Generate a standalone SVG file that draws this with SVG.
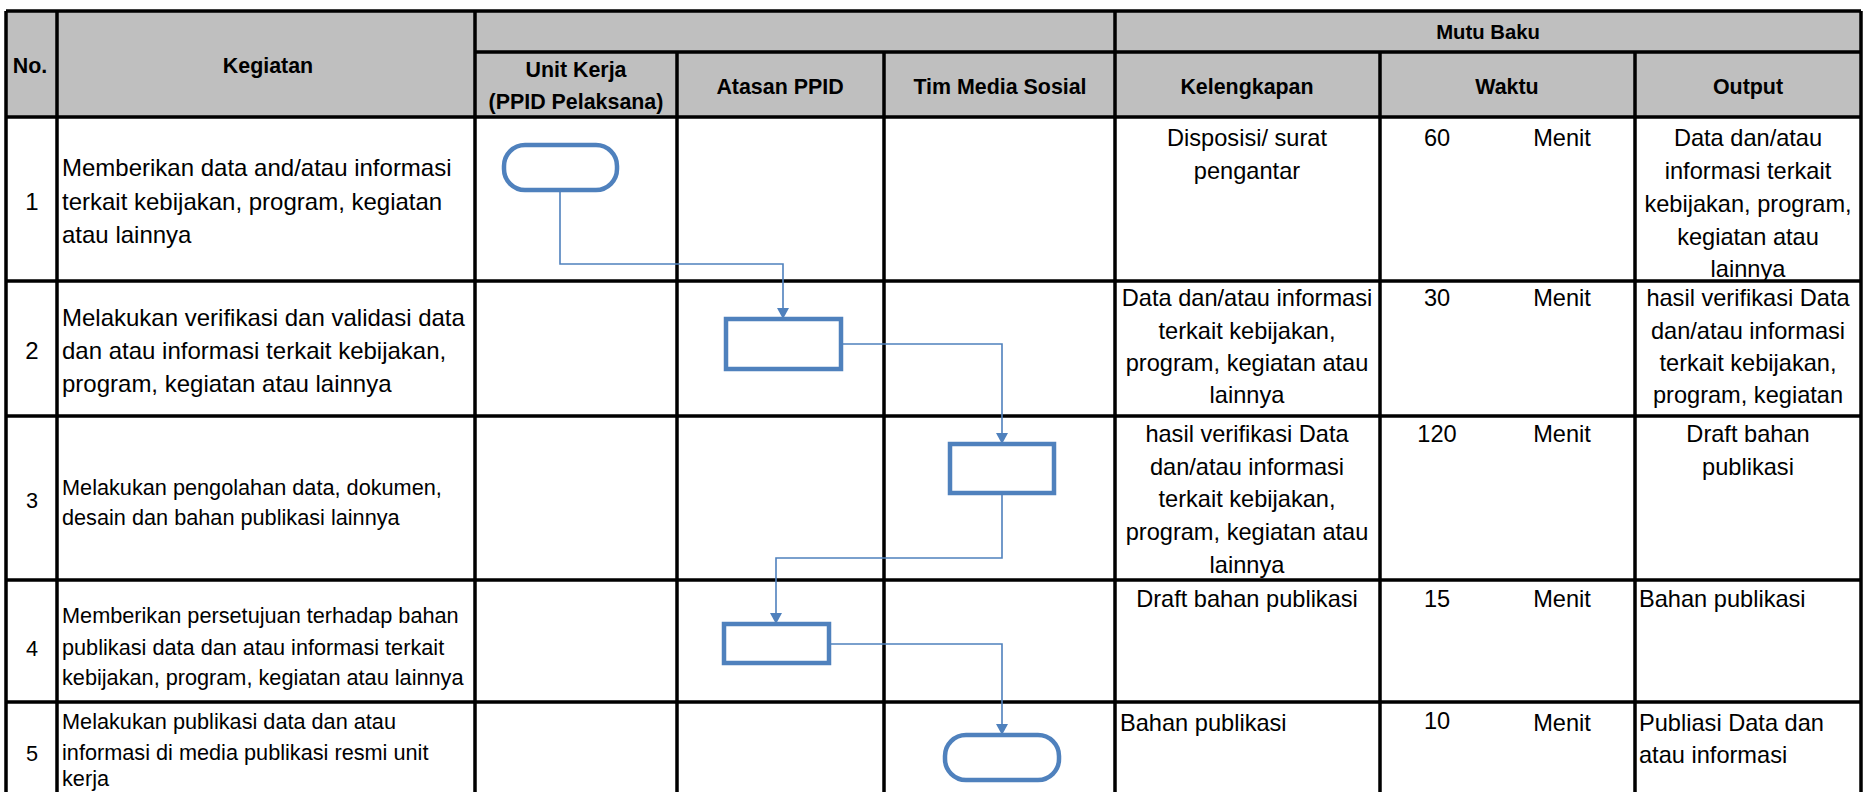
<svg xmlns="http://www.w3.org/2000/svg" width="1868" height="792" viewBox="0 0 1868 792">
<style>
.t{font-family:"Liberation Sans",Arial,sans-serif;font-size:23.6px;fill:#000}
.b{font-family:"Liberation Sans",Arial,sans-serif;font-size:24px;fill:#000}
.s{font-family:"Liberation Sans",Arial,sans-serif;font-size:21.7px;fill:#000}
.h{font-family:"Liberation Sans",Arial,sans-serif;font-size:21.4px;font-weight:bold;fill:#000}
.m{font-family:"Liberation Sans",Arial,sans-serif;font-size:20.3px;font-weight:bold;fill:#000}
.c{text-anchor:middle}
.g{stroke:#000;stroke-width:3.5;fill:none}
.n{fill:#fff;stroke:#4f81bd;stroke-width:4.5}
.k{fill:none;stroke:#4f81bd;stroke-width:1.6}
</style>
<defs>
<marker id="ah" markerWidth="12" markerHeight="12" refX="10" refY="6" orient="auto" markerUnits="userSpaceOnUse">
<path d="M0,0 L11,6 L0,12 Z" fill="#4f81bd"/>
</marker>
</defs>
<rect x="0" y="0" width="1868" height="792" fill="#fff"/>
<g id="table">
<rect x="6" y="11" width="1855" height="106" fill="#bfbfbf"/>
<g class="g">
<path d="M6,11 H1861 M475,52 H1861 M6,117 H1861 M6,281 H1861 M6,416 H1861 M6,580 H1861 M6,702 H1861"/>
<path d="M6,11 V792 M57,11 V792 M475,11 V792 M1115,11 V792 M1861,11 V792 M677,52 V792 M884,52 V792 M1380,52 V792 M1635,52 V792"/>
</g>
<text class="h c" x="30" y="73">No.</text>
<text class="h c" x="268" y="73">Kegiatan</text>
<text class="m c" x="1488" y="39">Mutu Baku</text>
<text class="h c" x="576" y="77">Unit Kerja</text>
<text class="h c" x="576" y="109">(PPID Pelaksana)</text>
<text class="h c" x="780" y="94">Atasan PPID</text>
<text class="h c" x="1000" y="94">Tim Media Sosial</text>
<text class="h c" x="1247" y="94">Kelengkapan</text>
<text class="h c" x="1507" y="94">Waktu</text>
<text class="h c" x="1748" y="94">Output</text>
</g>
<g id="row1">
<text class="b c" x="32" y="210">1</text>
<text class="b" x="62" y="176">Memberikan data and/atau informasi</text>
<text class="b" x="62" y="210">terkait kebijakan, program, kegiatan</text>
<text class="b" x="62" y="243">atau lainnya</text>
<text class="t c" x="1247" y="146">Disposisi/ surat</text>
<text class="t c" x="1247" y="179">pengantar</text>
<text class="t c" x="1437" y="146">60</text>
<text class="t c" x="1562" y="146">Menit</text>
<text class="t c" x="1748" y="146">Data dan/atau</text>
<text class="t c" x="1748" y="179">informasi terkait</text>
<text class="t c" x="1748" y="212">kebijakan, program,</text>
<text class="t c" x="1748" y="245">kegiatan atau</text>
<text class="t c" x="1748" y="277">lainnya</text>
</g>
<g id="row2">
<text class="b c" x="32" y="359">2</text>
<text class="b" x="62" y="326">Melakukan verifikasi dan validasi data</text>
<text class="b" x="62" y="359">dan atau informasi terkait kebijakan,</text>
<text class="b" x="62" y="392">program, kegiatan atau lainnya</text>
<text class="t c" x="1247" y="306">Data dan/atau informasi</text>
<text class="t c" x="1247" y="339">terkait kebijakan,</text>
<text class="t c" x="1247" y="371">program, kegiatan atau</text>
<text class="t c" x="1247" y="403">lainnya</text>
<text class="t c" x="1437" y="306">30</text>
<text class="t c" x="1562" y="306">Menit</text>
<text class="t c" x="1748" y="306">hasil verifikasi Data</text>
<text class="t c" x="1748" y="339">dan/atau informasi</text>
<text class="t c" x="1748" y="371">terkait kebijakan,</text>
<text class="t c" x="1748" y="403">program, kegiatan</text>
</g>
<g id="row3">
<text class="s c" x="32" y="508">3</text>
<text class="s" x="62" y="495">Melakukan pengolahan data, dokumen,</text>
<text class="s" x="62" y="525">desain dan bahan publikasi lainnya</text>
<text class="t c" x="1247" y="442">hasil verifikasi Data</text>
<text class="t c" x="1247" y="475">dan/atau informasi</text>
<text class="t c" x="1247" y="507">terkait kebijakan,</text>
<text class="t c" x="1247" y="540">program, kegiatan atau</text>
<text class="t c" x="1247" y="573">lainnya</text>
<text class="t c" x="1437" y="442">120</text>
<text class="t c" x="1562" y="442">Menit</text>
<text class="t c" x="1748" y="442">Draft bahan</text>
<text class="t c" x="1748" y="475">publikasi</text>
</g>
<g id="row4">
<text class="s c" x="32" y="656">4</text>
<text class="s" x="62" y="623">Memberikan persetujuan terhadap bahan</text>
<text class="s" x="62" y="655">publikasi data dan atau informasi terkait</text>
<text class="s" x="62" y="685">kebijakan, program, kegiatan atau lainnya</text>
<text class="t c" x="1247" y="607">Draft bahan publikasi</text>
<text class="t c" x="1437" y="607">15</text>
<text class="t c" x="1562" y="607">Menit</text>
<text class="t" x="1639" y="607">Bahan publikasi</text>
</g>
<g id="row5">
<text class="s c" x="32" y="761">5</text>
<text class="s" x="62" y="729">Melakukan publikasi data dan atau</text>
<text class="s" x="62" y="760">informasi di media publikasi resmi unit</text>
<text class="s" x="62" y="786">kerja</text>
<text class="t" x="1120" y="731">Bahan publikasi</text>
<text class="t c" x="1437" y="729">10</text>
<text class="t c" x="1562" y="731">Menit</text>
<text class="t" x="1639" y="731">Publiasi Data dan</text>
<text class="t" x="1639" y="763">atau informasi</text>
</g>
<g id="connectors">
<path class="k" d="M560,190 V264 H783 V318" marker-end="url(#ah)"/>
<path class="k" d="M841,344 H1002 V443" marker-end="url(#ah)"/>
<path class="k" d="M1002,493 V558 H776 V623" marker-end="url(#ah)"/>
<path class="k" d="M829,644 H1002 V734" marker-end="url(#ah)"/>
</g>
<g id="start"><rect class="n" x="504" y="145" width="113" height="45" rx="21"/></g>
<g id="verify"><rect class="n" x="726" y="319" width="115" height="50"/></g>
<g id="process"><rect class="n" x="950" y="444" width="104" height="49"/></g>
<g id="approve"><rect class="n" x="724" y="624" width="105" height="39"/></g>
<g id="end"><rect class="n" x="945" y="735" width="114" height="45" rx="21"/></g>
</svg>
